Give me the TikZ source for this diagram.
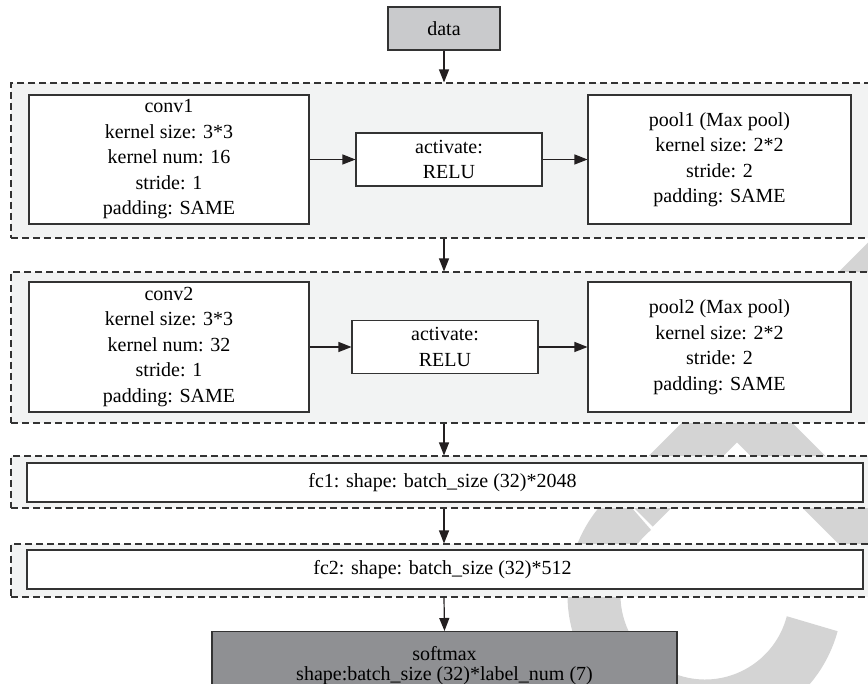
\documentclass[tikz,border=0pt]{standalone}
\usepackage{fontspec}
\setmainfont{Liberation Serif}
\usetikzlibrary{positioning, arrows.meta}
\definecolor{cGroup}{HTML}{F2F3F3}
\definecolor{cLine}{HTML}{333333}
\definecolor{cArrow}{HTML}{231F20}
\definecolor{cData}{HTML}{C9CACC}
\definecolor{cSoft}{HTML}{8F9093}
\definecolor{cMark}{HTML}{D4D4D4}

\begin{document}
\begin{tikzpicture}[
    x=1pt, y=1pt,
    >={Triangle[length=13pt, width=10pt]},
    box/.style={
        draw=cLine, line width=1.1pt, fill=white, inner sep=0pt,
        align=center, font=\fontsize{20}{25.5}\selectfont
    },
    grp/.style={draw=cLine, line width=1.1pt, dash pattern=on 7pt off 4pt,
        fill=cGroup, inner sep=0pt},
    arr/.style={->, line width=1.2pt, draw=cArrow},
    wm/.style={draw=cMark, line width=53pt},
]
\useasboundingbox (0,0) rectangle (868,-684);

% =============================================
% WATERMARK (behind everything)
% =============================================
\draw[wm] (705,-595) ++(-15:111) arc[start angle=-15, end angle=-230, radius=111];
\draw[wm, line join=miter] (634,-508) -- (737,-405) -- (875,-543);
\draw[wm] (830,-318) -- (905,-243);

% =============================================
% INPUT
% =============================================
\node[box, fill=cData, minimum width=112pt, minimum height=43pt] (data) at (444,-28.5) {data};

% =============================================
% BLOCK 1: conv1 -> activate -> pool1
% =============================================
\node[grp, minimum width=864pt, minimum height=155pt] (grp1) at (443,-160.5) {};

\node[box, minimum width=280pt, minimum height=129pt] (conv1) at (169,-159.5) {
    conv1\\ kernel size: 3*3\\ kernel num: 16\\ stride: 1\\ padding: SAME
};
\node[box, minimum width=186pt, minimum height=53pt] (act1) at (449,-159.5) {
    activate:\\ RELU
};
\node[box, minimum width=263pt, minimum height=129pt] (pool1) at (719.5,-159.5) {
    pool1 (Max pool)\\ kernel size: 2*2\\ stride: 2\\ padding: SAME
};

\draw[arr] (data.south) -- (data.south |- grp1.north);
\draw[arr] (conv1.east) -- (act1.west);
\draw[arr] (act1.east) -- (pool1.west);

% =============================================
% BLOCK 2: conv2 -> activate -> pool2
% =============================================
\node[grp, minimum width=864pt, minimum height=151pt] (grp2) at (443,-347.5) {};

\node[box, minimum width=280pt, minimum height=130pt] (conv2) at (169,-347) {
    conv2\\ kernel size: 3*3\\ kernel num: 32\\ stride: 1\\ padding: SAME
};
\node[box, minimum width=186pt, minimum height=53pt] (act2) at (445,-347) {
    activate:\\ RELU
};
\node[box, minimum width=263pt, minimum height=130pt] (pool2) at (719.5,-347) {
    pool2 (Max pool)\\ kernel size: 2*2\\ stride: 2\\ padding: SAME
};

\draw[arr] (data.south |- grp1.south) -- (data.south |- grp2.north);
\draw[arr] (conv2.east) -- (act2.west);
\draw[arr] (act2.east) -- (pool2.west);

% =============================================
% FULLY CONNECTED LAYERS
% =============================================
\node[grp, minimum width=864pt, minimum height=52pt] (grp3) at (443,-482) {};
\node[box, minimum width=836pt, minimum height=39pt] (fc1) at (445,-482.5) {
    fc1: shape: batch\_size (32)*2048
};

\node[grp, minimum width=864pt, minimum height=53pt] (grp4) at (443,-570.5) {};
\node[box, minimum width=836pt, minimum height=39pt] (fc2) at (445,-569.5) {
    fc2: shape: batch\_size (32)*512
};

\draw[arr] (data.south |- grp2.south) -- (data.south |- grp3.north);
\draw[arr] (data.south |- grp3.south) -- (data.south |- grp4.north);

% =============================================
% OUTPUT
% =============================================
\node[box, fill=cSoft, minimum width=465pt, minimum height=80pt, anchor=north,
      inner ysep=15pt, font=\fontsize{20}{20}\selectfont] (soft) at (444.5,-631) {
    softmax\\ shape:batch\_size (32)*label\_num (7)\\[14pt]
};

\draw[arr] (data.south |- grp4.south) -- (soft.north);

\end{tikzpicture}
\end{document}
